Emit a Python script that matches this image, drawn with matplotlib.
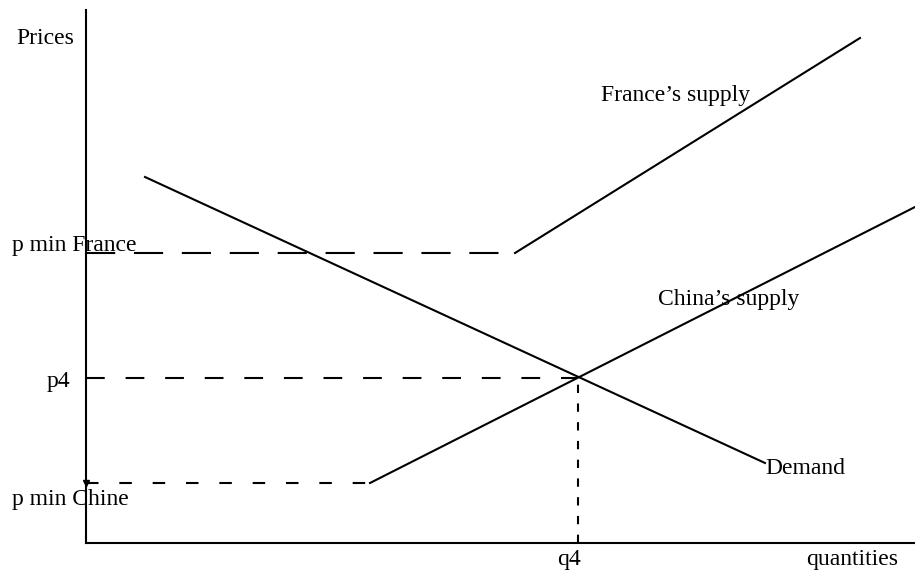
import matplotlib.pyplot as plt

# price / quantity values (arbitrary units)
demand_q = [59, 679]
demand_p = [366, 80]

p_min_france = 290
france_kink_q = 429
france_end = (774, 505)

p_min_china = 60
china_kink_q = 284
china_end = (829, 336)

q4 = 492
p4 = 165

plt.rcParams['font.family'] = ['Liberation Serif', 'DejaVu Serif']

fig = plt.figure(figsize=(9.15, 5.71), dpi=100)
ax = fig.add_axes([86 / 915, 28 / 571, 829 / 915, 533 / 571])
ax.set_xlim(0, 829)
ax.set_ylim(0, 533)
for side in ['top', 'right']:
    ax.spines[side].set_visible(False)
for side in ['left', 'bottom']:
    ax.spines[side].set_linewidth(1.5)
ax.set_xticks([])
ax.set_yticks([])

lw = 1.5
# demand
ax.plot(demand_q, demand_p, color='black', lw=lw)

# France's supply: flat (dashed) at p min, then rising
ax.plot([0, france_kink_q], [p_min_france, p_min_france], color='black', lw=lw,
        dashes=(14, 9))
ax.plot([france_kink_q, france_end[0]], [p_min_france, france_end[1]], color='black', lw=lw)

# China's supply
ax.plot([0, china_kink_q], [p_min_china, p_min_china], color='black', lw=lw,
        dashes=(6, 10))
ax.plot([china_kink_q, china_end[0]], [p_min_china, china_end[1]], color='black', lw=lw)
ax.plot([0], [p_min_china], marker='v', color='black', ms=5, clip_on=False)

# equilibrium guides
ax.plot([0, q4], [p4, p4], color='black', lw=lw, dashes=(9, 10))
ax.plot([q4, q4], [0, p4], color='black', lw=lw, dashes=(4, 5))

fs = 17
ax.text(-70, 505, "Prices", fontsize=fs, ha='left', va='center', clip_on=False)
ax.text(-74, 297, "p min France", fontsize=fs, ha='left', va='center', clip_on=False)
ax.text(-39, 161, "p4", fontsize=fs, ha='left', va='center', clip_on=False)
ax.text(-74, 44, "p min Chine", fontsize=fs, ha='left', va='center', clip_on=False)
ax.text(515, 448, "France\u2019s supply", fontsize=fs, ha='left', va='center')
ax.text(572, 244, "China\u2019s supply", fontsize=fs, ha='left', va='center')
ax.text(679, 74, "Demand", fontsize=fs, ha='left', va='center')
ax.text(483, -16, "q4", fontsize=fs, ha='center', va='center', clip_on=False)
ax.text(720, -16, "quantities", fontsize=fs, ha='left', va='center', clip_on=False)

fig.savefig("out.png", dpi=100)
